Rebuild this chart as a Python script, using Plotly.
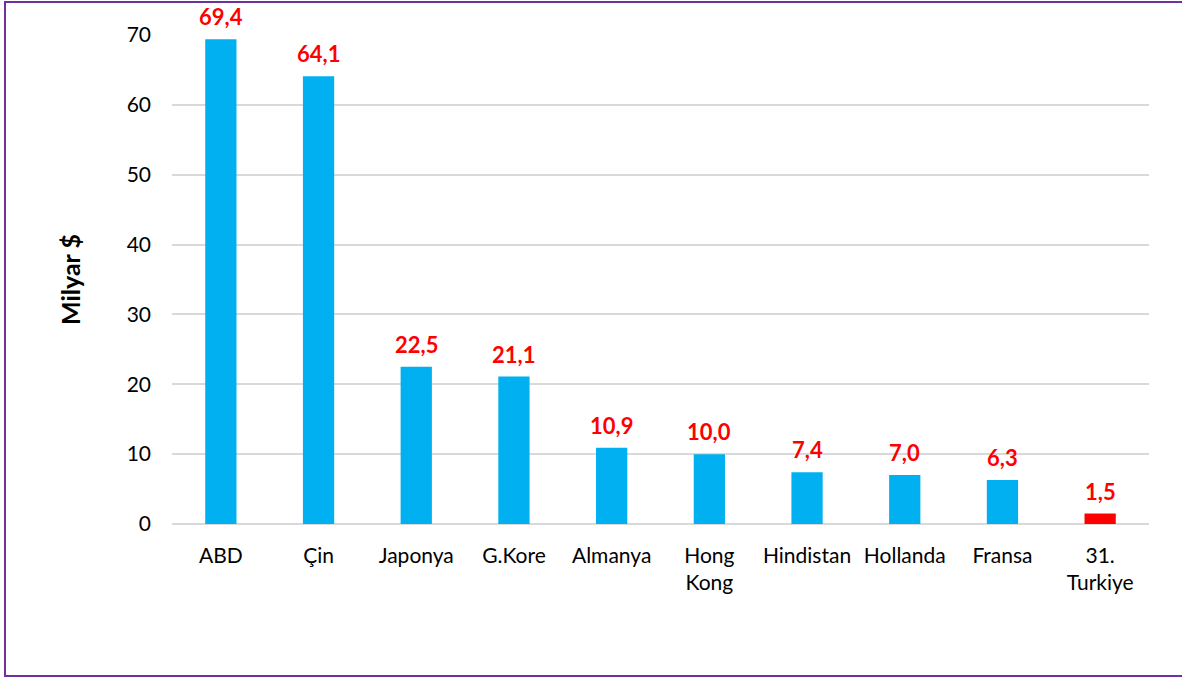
import plotly.graph_objects as go

categories = ["ABD", "Çin", "Japonya", "G.Kore", "Almanya", "Hong<br>Kong",
              "Hindistan", "Hollanda", "Fransa", "31.<br>Turkiye"]
values = [69.4, 64.1, 22.5, 21.1, 10.9, 10.0, 7.4, 7.0, 6.3, 1.5]
labels = ["69,4", "64,1", "22,5", "21,1", "10,9", "10,0", "7,4", "7,0", "6,3", "1,5"]
bar_colors = ["#00B0F0"] * 9 + ["#FF0000"]

FONT = "Lato, 'Open Sans', sans-serif"

fig = go.Figure(go.Bar(
    x=categories, y=values,
    marker=dict(color=bar_colors, line=dict(width=0)),
    cliponaxis=False, width=0.32, hoverinfo="skip",
))

for c, v, t in zip(categories, values, labels):
    fig.add_annotation(x=c, y=v, text=f"<b>{t}</b>", showarrow=False,
                       yanchor="bottom", yshift=7,
                       font=dict(color="#FF0000", size=22, family=FONT))

W, H = 1182, 677
L, R, T, B = 172, 33, 35, 153
pw = W - L - R
ph = H - T - B

fig.update_layout(
    width=W, height=H,
    margin=dict(l=L, r=R, t=T, b=B),
    paper_bgcolor="white", plot_bgcolor="white",
    showlegend=False,
    font=dict(family=FONT, size=21, color="#000000"),
    xaxis=dict(showgrid=False, showline=False, ticks="", ticklabelstandoff=17,
               tickfont=dict(size=21)),
    yaxis=dict(range=[0, 70], dtick=10, showgrid=True, gridcolor="#D9D9D9",
               gridwidth=1.5, zeroline=True, zerolinecolor="#D9D9D9", zerolinewidth=1.5,
               showline=False, ticks="", ticklabelstandoff=20, tickfont=dict(size=21),
               title=dict(text="<b>Milyar $</b>", font=dict(size=25), standoff=38)),
    shapes=[dict(type="rect", xref="paper", yref="paper",
                 x0=(5 - L) / pw, x1=(W + 5 - L) / pw,
                 y0=(H - 676 - B) / ph, y1=(H - 2 - B) / ph,
                 line=dict(color="#7030A0", width=2), fillcolor="rgba(0,0,0,0)", layer="below")],
)

fig.write_html("out.html", config=dict(displayModeBar=False),
               post_script="document.body.style.margin='0';document.body.style.overflow='hidden';")
